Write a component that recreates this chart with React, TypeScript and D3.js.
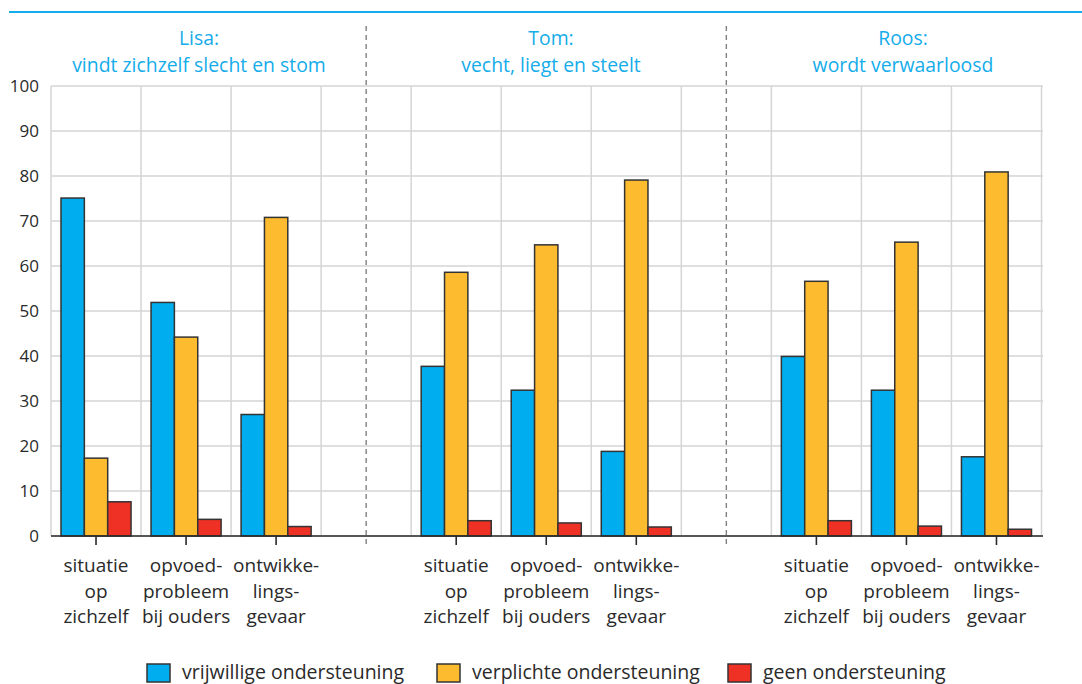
import React from "react";
import * as d3 from "d3";

const cases = ["Lisa", "Tom", "Roos"];
const caseTitles = [
  ["Lisa:", "vindt zichzelf slecht en stom"],
  ["Tom:", "vecht, liegt en steelt"],
  ["Roos:", "wordt verwaarloosd"],
];
const categories = ["situatie op zichzelf", "opvoedprobleem bij ouders", "ontwikkelingsgevaar"];
const categoryLines = [
  ["situatie", "op", "zichzelf"],
  ["opvoed-", "probleem", "bij ouders"],
  ["ontwikke-", "lings-", "gevaar"],
];
const seriesNames = ["vrijwillige ondersteuning", "verplichte ondersteuning", "geen ondersteuning"];
// order: Lisa(sit, opv, ontw), Tom(...), Roos(...)
const vrijwillig = [75.1, 51.9, 27.0, 37.7, 32.4, 18.8, 39.9, 32.4, 17.6];
const verplicht = [17.3, 44.2, 70.8, 58.6, 64.7, 79.1, 56.6, 65.3, 80.9];
const geen = [7.6, 3.7, 2.1, 3.4, 2.9, 2.0, 3.4, 2.2, 1.5];
const yTicks = [0, 10, 20, 30, 40, 50, 60, 70, 80, 90, 100];

const colors = ["#00aeef", "#fdbb30", "#ee3124"];
const titleBlue = "#14acea";
const textColor = "#2a2a2a";
const FONT = "'Open Sans', sans-serif";

export default function App() {
  const W = 1082;
  const H = 684;
  const left = 51;
  const right = 1041.5;
  const top = 86;
  const bottom = 536;

  // 11 slots: 3 categories per case + 1 gap slot between cases
  const slots: string[] = [];
  cases.forEach((c, i) => {
    categories.forEach((_, j) => slots.push(`${c}|${j}`));
    if (i < cases.length - 1) slots.push(`gap${i}`);
  });

  const x = d3.scaleBand<string>().domain(slots).range([left, right]).padding(0);
  const inner = d3
    .scaleBand<number>()
    .domain([0, 1, 2])
    .range([10, x.bandwidth() - 10])
    .padding(0);
  const y = d3.scaleLinear().domain([0, 100]).range([bottom, top]);

  const series = [vrijwillig, verplicht, geen];

  const boundaries = slots.map((s) => x(s)!).concat([right]);
  const gapCenters = slots.filter((s) => s.startsWith("gap")).map((s) => x(s)! + x.bandwidth() / 2);

  return (
    <svg width={W} height={H} style={{ display: "block", position: "absolute", left: 0, top: 0 }} fontFamily={FONT}>
      <rect x={0} y={0} width={W} height={H} fill="#fff" />
      <line x1={9} x2={W} y1={12} y2={12} stroke={titleBlue} strokeWidth={2} />

      {/* titles */}
      {caseTitles.map((lines, i) => (
        <text key={i} x={199 + i * 352} textAnchor="middle" fill={titleBlue} fontSize={19.4}>
          <tspan x={199 + i * 352} y={45}>{lines[0]}</tspan>
          <tspan x={199 + i * 352} y={72}>{lines[1]}</tspan>
        </text>
      ))}

      {/* horizontal grid */}
      {yTicks.map((t) => (
        <line key={"h" + t} x1={left} x2={right + 1.5} y1={y(t)} y2={y(t)} stroke="#d5d5d5" strokeWidth={1.5} />
      ))}
      {/* vertical grid */}
      {boundaries.map((b, i) => (
        <line key={"v" + i} x1={b} x2={b} y1={top} y2={bottom} stroke="#d5d5d5" strokeWidth={1.5} />
      ))}

      {/* dashed separators */}
      {gapCenters.map((g, i) => (
        <line key={"d" + i} x1={g} x2={g} y1={26} y2={546} stroke="#808080" strokeWidth={1.4} strokeDasharray="5,4" />
      ))}

      {/* y labels */}
      {yTicks.map((t) => (
        <text key={"yl" + t} x={39} y={y(t) + 6} textAnchor="end" fontSize={17} fill={textColor}>
          {t}
        </text>
      ))}

      {/* bars */}
      {cases.map((c, i) =>
        categories.map((_, j) => {
          const idx = i * 3 + j;
          const x0 = x(`${c}|${j}`)!;
          return series.map((s, k) => (
            <rect
              key={`${c}-${j}-${k}`}
              x={x0 + inner(k)!}
              y={y(s[idx])}
              width={inner.bandwidth()}
              height={y(0) - y(s[idx])}
              fill={colors[k]}
              stroke="#333"
              strokeWidth={1.5}
            />
          ));
        })
      )}

      {/* x axis */}
      <line x1={left} x2={right + 1.5} y1={bottom} y2={bottom} stroke="#2a2a2a" strokeWidth={1.6} />
      {cases.map((c) =>
        categories.map((_, j) => {
          const cx = x(`${c}|${j}`)! + x.bandwidth() / 2;
          return (
            <g key={`t-${c}-${j}`}>
              <line x1={cx} x2={cx} y1={bottom} y2={bottom + 9} stroke="#2a2a2a" strokeWidth={1.6} />
              <text textAnchor="middle" fontSize={19} fill={textColor}>
                {categoryLines[j].map((ln, li) => (
                  <tspan key={li} x={cx} y={572 + li * 25.5}>
                    {ln}
                  </tspan>
                ))}
              </text>
            </g>
          );
        })
      )}

      {/* legend */}
      {seriesNames.map((n, k) => {
        const lx = [147, 437, 728][k];
        return (
          <g key={"lg" + k}>
            <rect x={lx} y={664} width={23} height={18} fill={colors[k]} stroke="#333" strokeWidth={1.5} />
            <text x={lx + 35} y={678.5} fontSize={19.5} fill={textColor}>
              {n}
            </text>
          </g>
        );
      })}
    </svg>
  );
}
